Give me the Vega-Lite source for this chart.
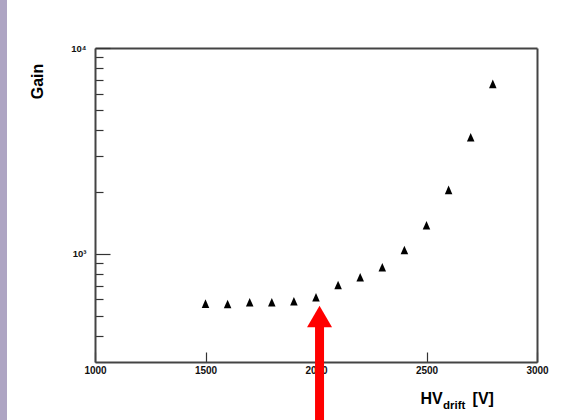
{
  "$schema": "https://vega.github.io/schema/vega-lite/v6.json",
  "width": 442,
  "height": 314,
  "autosize": "none",
  "padding": {"left": 95, "top": 48, "right": 49, "bottom": 58},
  "background": "#aea5c3",
  "config": {
    "view": {"fill": "white", "stroke": "white", "strokeWidth": 176},
    "font": "Liberation Sans"
  },
  "datasets": {
    "gain": [
      {"hv": 1500, "gain": 571},
      {"hv": 1600, "gain": 569},
      {"hv": 1700, "gain": 580},
      {"hv": 1800, "gain": 580},
      {"hv": 1900, "gain": 587},
      {"hv": 2000, "gain": 614},
      {"hv": 2100, "gain": 704},
      {"hv": 2200, "gain": 768},
      {"hv": 2300, "gain": 859},
      {"hv": 2400, "gain": 1042},
      {"hv": 2500, "gain": 1374},
      {"hv": 2600, "gain": 2040},
      {"hv": 2700, "gain": 3681},
      {"hv": 2800, "gain": 6683}
    ],
    "arrow": [
      {"hv": 2016, "tip": 495, "tail": 440, "end": 139}
    ]
  },
  "title": {
    "text": "drift",
    "orient": "bottom",
    "anchor": "start",
    "frame": "group",
    "font": "Liberation Sans",
    "fontSize": 11.5,
    "fontWeight": "bold",
    "color": "#000",
    "baseline": "alphabetic",
    "offset": 0,
    "dx": 348,
    "dy": -25
  },
  "layer": [
    {
      "data": {"name": "gain"},
      "mark": {"type": "point", "shape": "M0,-1.05L0.9,1L-0.9,1Z", "filled": true, "color": "black", "opacity": 1, "size": 70, "clip": false},
      "encoding": {
        "x": {
          "field": "hv", "type": "quantitative",
          "scale": {"domain": [1000, 3000], "nice": false, "zero": false},
          "axis": {
            "orient": "bottom",
            "values": [1000, 1500, 2000, 2500, 3000],
            "format": "d",
            "grid": false,
            "tickSize": -10, "tickWidth": 1.2, "tickColor": "#333",
            "domainColor": "#444", "domainWidth": 2,
            "labelFont": "Liberation Sans", "labelFontWeight": "bold", "labelFontSize": 10, "labelColor": "#111",
            "labelPadding": 13, "labelFlush": false, "labelOverlap": false,
            "title": "HV\u00a0\u00a0\u00a0\u00a0\u00a0\u00a0\u2009[V]",
            "titleFont": "Liberation Sans", "titleFontSize": 16, "titleFontWeight": "bold", "titleColor": "#000",
            "titleX": 325, "titleY": 41, "titleAlign": "left", "titleBaseline": "alphabetic"
          }
        },
        "y": {
          "field": "gain", "type": "quantitative",
          "scale": {"type": "log", "domain": [297.5, 10000], "nice": false},
          "axis": {
            "orient": "left",
            "values": [400, 500, 600, 700, 800, 900, 1000, 2000, 3000, 4000, 5000, 6000, 7000, 8000, 9000, 10000],
            "labelExpr": "datum.value == 1000 ? '10³' : (datum.value == 10000 ? '10⁴' : '')",
            "grid": false,
            "tickSize": {"condition": {"test": "datum.value == 1000 || datum.value == 10000", "value": -15}, "value": -8},
            "tickWidth": 1.2, "tickColor": "#333",
            "domainColor": "#444", "domainWidth": 2,
            "labelFont": "Liberation Sans", "labelFontWeight": "bold", "labelFontSize": 9.5, "labelColor": "#111",
            "labelPadding": 24, "labelFlush": false, "labelOverlap": false,
            "title": "Gain",
            "titleFont": "Liberation Sans", "titleFontSize": 16, "titleFontWeight": "bold", "titleColor": "#000",
            "titleX": -52.5, "titleY": 33, "titleAlign": "center", "titleBaseline": "alphabetic", "titleAngle": 270
          }
        }
      }
    },
    {
      "data": {"name": "arrow"},
      "mark": {"type": "rule", "color": "#ff0000", "strokeWidth": 9, "clip": false},
      "encoding": {
        "x": {
          "field": "hv", "type": "quantitative",
          "scale": {"domain": [1000, 3000], "nice": false, "zero": false},
          "axis": {"orient": "top", "labels": false, "ticks": false, "grid": false, "title": null, "domainColor": "#444", "domainWidth": 2}
        },
        "y": {
          "field": "tail", "type": "quantitative",
          "scale": {"type": "log", "domain": [297.5, 10000], "nice": false},
          "axis": {"orient": "right", "labels": false, "ticks": false, "grid": false, "title": null, "domainColor": "#444", "domainWidth": 2}
        },
        "y2": {"field": "end"}
      }
    },
    {
      "data": {"name": "arrow"},
      "mark": {"type": "point", "shape": "triangle-up", "filled": true, "color": "#ff0000", "opacity": 1, "size": 625, "clip": false},
      "encoding": {
        "x": {
          "field": "hv", "type": "quantitative",
          "scale": {"domain": [1000, 3000], "nice": false, "zero": false},
          "axis": null
        },
        "y": {
          "field": "tip", "type": "quantitative",
          "scale": {"type": "log", "domain": [297.5, 10000], "nice": false},
          "axis": null
        }
      }
    }
  ],
  "resolve": {"axis": {"x": "independent", "y": "independent"}}
}
